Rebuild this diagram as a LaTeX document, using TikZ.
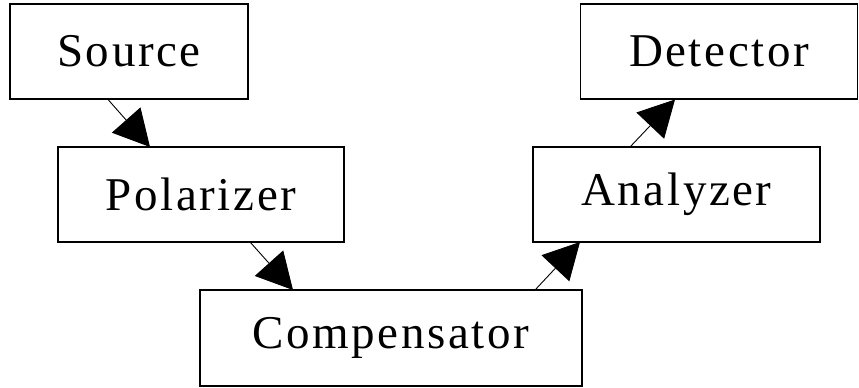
\documentclass[tikz,border=0pt]{standalone}
\usepackage{fontspec}
\setmainfont{Liberation Serif}[LetterSpace=5.5]
\usetikzlibrary{arrows.meta}
\begin{document}
\begin{tikzpicture}[x=1pt,y=-1pt,
  blk/.style={draw,line width=1.5pt,inner sep=0pt,font=\fontsize{47}{50}\selectfont},
  conn/.style={line width=0.9pt,-{Triangle[length=36pt,width=38pt]},shorten >=0pt}]
\useasboundingbox (0,0) rectangle (859,388);
\node[blk,minimum width=238pt,minimum height=95pt] (src) at (129,51.5) {Source};
\node[blk,minimum width=286pt,minimum height=95pt] (pol) at (201,194.5) {Polarizer};
\node[blk,minimum width=382pt,minimum height=96pt] (cmp) at (391,338) {Compensator};
\node[blk,minimum width=287pt,minimum height=95pt] (ana) at (676.5,194.5) {Analyzer};
\node[blk,minimum width=277pt,minimum height=95pt] (det) at (719,51.5) {Detector};
\coordinate (a1) at (108,99.5);
\coordinate (a2) at (150,147);
\coordinate (b1) at (250,242);
\coordinate (b2) at (293,290);
\coordinate (c1) at (535,290);
\coordinate (c2) at (580,242);
\coordinate (d1) at (630,147);
\coordinate (d2) at (675,99.5);
\draw[conn] (a1) -- (a2);
\draw[conn] (b1) -- (b2);
\draw[conn] (c1) -- (c2);
\draw[conn] (d1) -- (d2);
\end{tikzpicture}
\end{document}
